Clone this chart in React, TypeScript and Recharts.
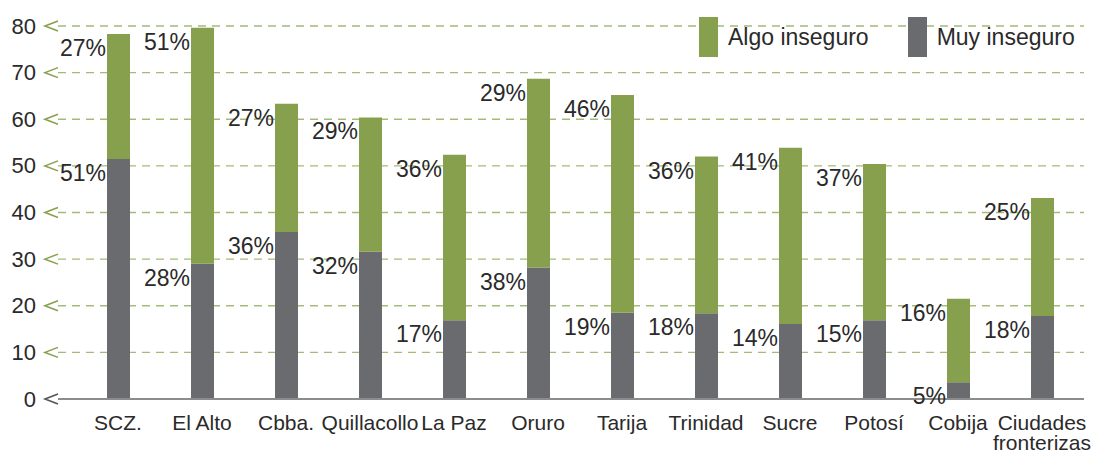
import { Bar, BarChart, CartesianGrid, LabelList, Legend, XAxis, YAxis } from "recharts"

const cities = [
  "SCZ.",
  "El Alto",
  "Cbba.",
  "Quillacollo",
  "La Paz",
  "Oruro",
  "Tarija",
  "Trinidad",
  "Sucre",
  "Potosí",
  "Cobija",
  "Ciudades\nfronterizas",
]
const muyInseguro = [51.5, 29, 35.8, 31.6, 16.9, 28.2, 18.5, 18.4, 16.1, 16.9, 3.6, 17.8]
const algoInseguro = [26.8, 50.6, 27.5, 28.8, 35.5, 40.5, 46.7, 33.6, 37.8, 33.5, 17.9, 25.3]
const muyLabels = ["51%", "28%", "36%", "32%", "17%", "38%", "19%", "18%", "14%", "15%", "5%", "18%"]
const algoLabels = ["27%", "51%", "27%", "29%", "36%", "29%", "46%", "36%", "41%", "37%", "16%", "25%"]
const yTicks = [0, 10, 20, 30, 40, 50, 60, 70, 80]

const GREEN = "#87a04d"
const GRAY = "#6a6b6f"
const TEXT = "#2a2a2a"
const FONT = "'Liberation Sans', Arial, sans-serif"

const data = cities.map((city, i) => ({
  city,
  muy: muyInseguro[i],
  algo: algoInseguro[i],
  muyLabel: muyLabels[i],
  algoLabel: algoLabels[i],
}))

function YTick(props: any) {
  const { x, y, payload } = props
  const color = payload.value === 0 ? "#555" : GREEN
  return (
    <g>
      <text x={x - 22} y={y} textAnchor="end" dominantBaseline="central" fontSize={22} fill={TEXT} fontFamily={FONT}>
        {payload.value}
      </text>
      <polyline
        points={`${x},${y - 5} ${x - 13},${y} ${x},${y + 5}`}
        fill="none"
        stroke={color}
        strokeWidth={1.6}
      />
    </g>
  )
}

function XTick(props: any) {
  const { x, y, payload } = props
  const lines = String(payload.value).split("\n")
  return (
    <text x={x} y={y + 21} textAnchor="middle" fontSize={21} fill={TEXT} fontFamily={FONT}>
      {lines.map((line, i) => (
        <tspan key={i} x={x} dy={i === 0 ? 0 : 20} dominantBaseline="central">
          {line}
        </tspan>
      ))}
    </text>
  )
}

function PctLabel(props: any) {
  const { x, y, value } = props
  return (
    <text x={x - 1} y={y + 14} textAnchor="end" dominantBaseline="central" fontSize={23} fill={TEXT} fontFamily={FONT}>
      {value}
    </text>
  )
}

function LegendBox() {
  const items = [
    { label: "Algo inseguro", color: GREEN },
    { label: "Muy inseguro", color: GRAY },
  ]
  return (
    <div style={{ display: "flex", gap: 39, fontFamily: FONT, fontSize: 23, color: TEXT }}>
      {items.map((it) => (
        <div key={it.label} style={{ display: "flex", alignItems: "center" }}>
          <span style={{ width: 19, height: 40, background: it.color, display: "inline-block", marginRight: 10 }} />
          <span>{it.label}</span>
        </div>
      ))}
    </div>
  )
}

export default function App() {
  return (
    <div style={{ position: "absolute", left: 0, top: 0, background: "#fff" }}>
      <BarChart width={1104} height={451} data={data} margin={{ top: 26, right: 20, bottom: 22, left: 0 }}>
        <CartesianGrid horizontal vertical={false} stroke="#a3bb78" strokeDasharray="8 6" strokeWidth={1.4} />
        <YAxis
          width={58}
          domain={[0, 80]}
          ticks={yTicks}
          axisLine={false}
          tickLine={false}
          tickSize={0}
          tickMargin={0}
          tick={<YTick />}
        />
        <XAxis
          dataKey="city"
          interval={0}
          height={30}
          padding={{ left: 18, right: 0 }}
          axisLine={{ stroke: "#8c8c8c", strokeWidth: 2 }}
          tickLine={false}
          tickSize={0}
          tick={<XTick />}
        />
        <Legend
          layout="horizontal"
          verticalAlign="middle"
          align="center"
          content={() => <LegendBox />}
          wrapperStyle={{ position: "absolute", left: 699, top: 17, width: "auto", height: 40 }}
        />
        <Bar dataKey="muy" stackId="a" fill={GRAY} barSize={23} isAnimationActive={false}>
          <LabelList dataKey="muyLabel" content={<PctLabel />} />
        </Bar>
        <Bar dataKey="algo" stackId="a" fill={GREEN} barSize={23} isAnimationActive={false}>
          <LabelList dataKey="algoLabel" content={<PctLabel />} />
        </Bar>
      </BarChart>
    </div>
  )
}
